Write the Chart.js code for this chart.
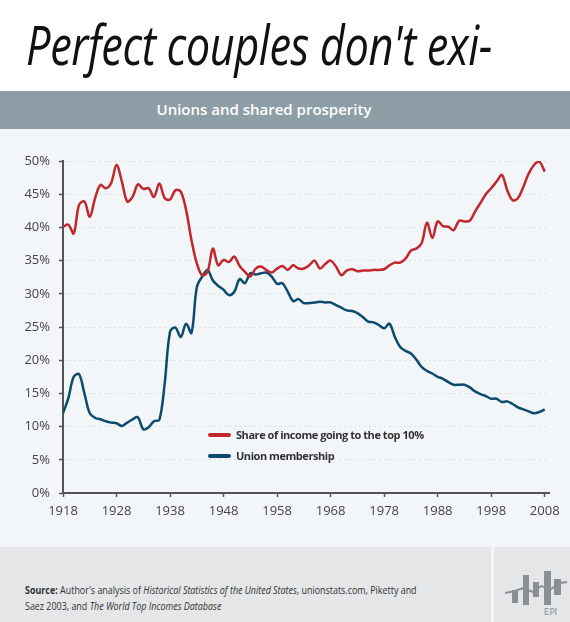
<!DOCTYPE html>
<html>
<head>
<meta charset="utf-8">
<script src="https://cdn.jsdelivr.net/npm/chart.js@4.4.1/dist/chart.umd.min.js"></script>
<style>
  html, body { margin: 0; padding: 0; background: #fff; }
  #page { position: relative; width: 570px; height: 622px; overflow: hidden; font-family: "Open Sans", sans-serif; }
  #title { position: absolute; left: 26px; top: 7px; font-size: 54px; line-height: normal; font-style: italic; font-weight: 400; color: #111; white-space: nowrap; letter-spacing: -0.5px; transform: scaleX(0.803); transform-origin: left top; }
  #band { position: absolute; left: 0; top: 91px; width: 570px; height: 38px; background: #8d9ea6; }
  #band span { position: absolute; left: 0; width: 528px; top: 8px; text-align: center; color: #fff; font-size: 15px; font-weight: 600; }
  #plot { position: absolute; left: 0; top: 129px; width: 570px; height: 418px; background: #f2f6f8; }
  #legend { position: absolute; left: 208px; top: 427px; font-size: 11px; font-weight: 700; color: #333; letter-spacing: -0.45px; }
  #legend div { height: 21px; line-height: 16px; white-space: nowrap; }
  #legend i { display: inline-block; width: 23px; height: 4px; border-radius: 2px; vertical-align: middle; margin-right: 5px; position: relative; top: -1px; }
  #foot { position: absolute; left: 0; top: 547px; width: 570px; height: 75px; background: #e4e6e8; }
  #foot p { position: absolute; left: 25px; top: 35px; margin: 0; font-size: 10.5px; line-height: 16px; color: #333; white-space: nowrap; transform: scaleX(0.85); transform-origin: left top; }
  #divider { position: absolute; left: 491px; top: 547px; width: 3px; height: 75px; background: #f4f6f7; }
  #logo { position: absolute; left: 505px; top: 570px; }
</style>
</head>
<body>
<div id="page">
  <div id="title">Perfect couples don't exi-</div>
  <div id="band"><span>Unions and shared prosperity</span></div>
  <div id="plot"><canvas id="unionChart" width="570" height="418"></canvas></div>
  <div id="legend">
    <div><i style="background:#c1272d"></i>Share of income going to the top 10%</div>
    <div><i style="background:#0d4b6e"></i>Union membership</div>
  </div>
  <div id="foot"><p><b>Source:</b> Author's analysis of <i>Historical Statistics of the United States</i>, unionstats.com, Piketty and<br>Saez 2003, and <i>The World Top Incomes Database</i></p></div>
  <div id="divider"></div>
  <svg id="logo" width="64" height="48" viewBox="0 0 64 48">
    <g fill="#8a8f94">
      <rect x="7" y="20" width="6" height="13"/>
      <rect x="18" y="5" width="6" height="30"/>
      <rect x="28" y="12" width="6" height="15"/>
      <rect x="39" y="1" width="7" height="34"/>
      <rect x="49" y="9" width="7" height="16"/>
    </g>
    <polyline points="0,23 10,21 18,18 28,22 36,16 46,19 55,13 62,12" fill="none" stroke="#8a8f94" stroke-width="2"/>
    <text x="39" y="45" font-family="DejaVu Sans Condensed, sans-serif" font-size="9.5" fill="#8a8f94">EPI</text>
  </svg>
</div>
<script>
const years = [1918, 1919, 1920, 1921, 1922, 1923, 1924, 1925, 1926, 1927,
    1928, 1929, 1930, 1931, 1932, 1933, 1934, 1935, 1936, 1937,
    1938, 1939, 1940, 1941, 1942, 1943, 1944, 1945, 1946, 1947,
    1948, 1949, 1950, 1951, 1952, 1953, 1954, 1955, 1956, 1957,
    1958, 1959, 1960, 1961, 1962, 1963, 1964, 1965, 1966, 1967,
    1968, 1969, 1970, 1971, 1972, 1973, 1974, 1975, 1976, 1977,
    1978, 1979, 1980, 1981, 1982, 1983, 1984, 1985, 1986, 1987,
    1988, 1989, 1990, 1991, 1992, 1993, 1994, 1995, 1996, 1997,
    1998, 1999, 2000, 2001, 2002, 2003, 2004, 2005, 2006, 2007,
    2008];

// share of income going to the top 10%
const topTenShare = [40.1, 40.4, 39.1, 43.4, 43.9, 41.6, 44.4, 46.4, 45.9, 46.7,
    49.4, 46.9, 43.9, 44.6, 46.5, 45.8, 45.9, 44.6, 46.6, 44.4,
    44.2, 45.6, 45.4, 42.6, 38.1, 34.6, 32.8, 33.3, 36.8, 34.3,
    35.1, 34.8, 35.6, 34.2, 33.3, 32.6, 33.8, 34.1, 33.6, 33.2,
    33.8, 34.2, 33.6, 34.3, 33.8, 33.8, 34.3, 35.0, 33.8, 34.5,
    35.0, 34.1, 32.8, 33.5, 33.7, 33.4, 33.5, 33.5, 33.6, 33.6,
    33.7, 34.3, 34.7, 34.7, 35.3, 36.5, 36.8, 37.6, 40.7, 38.4,
    40.9, 40.2, 40.1, 39.6, 41.0, 40.9, 41.0, 42.4, 43.7, 45.0,
    45.9, 46.9, 47.9, 45.6, 44.1, 44.4, 46.1, 48.1, 49.4, 49.9,
    48.4];

// union membership
const unionMembership = [12.0, 14.3, 17.5, 17.9, 15.0, 12.0, 11.3, 11.1, 10.8, 10.6,
    10.5, 10.1, 10.6, 11.1, 11.4, 9.6, 9.9, 10.8, 11.0, 16.5,
    24.3, 24.9, 23.5, 25.5, 24.1, 31.0, 32.6, 33.6, 32.0, 31.2,
    30.6, 29.8, 30.3, 32.2, 31.6, 33.1, 32.9, 33.1, 33.2, 32.6,
    31.5, 31.6, 30.3, 28.9, 29.2, 28.6, 28.6, 28.7, 28.8, 28.7,
    28.7, 28.3, 27.9, 27.5, 27.4, 27.1, 26.5, 25.8, 25.7, 25.3,
    24.8, 25.5, 23.5, 22.0, 21.4, 21.0, 20.1, 19.0, 18.4, 18.0,
    17.5, 17.2, 16.7, 16.3, 16.3, 16.3, 15.9, 15.3, 14.9, 14.6,
    14.2, 14.2, 13.7, 13.8, 13.4, 12.9, 12.6, 12.3, 12.0, 12.2,
    12.6];

const xTicks = [1918, 1928, 1938, 1948, 1958, 1968, 1978, 1988, 1998, 2008];
const yTicks = [0, 5, 10, 15, 20, 25, 30, 35, 40, 45, 50];

const toPoints = vals => vals.map((v, i) => ({ x: years[i], y: v }));

const ctx = document.getElementById('unionChart').getContext('2d');
const unionChart = new Chart(ctx, {
    type: 'line',
    data: {
        datasets: [{
            label: 'Share of income going to the top 10%',
            data: toPoints(topTenShare),
            borderColor: '#c1272d',
            borderWidth: 2.5,
            pointRadius: 0,
            tension: 0.35
        }, {
            label: 'Union membership',
            data: toPoints(unionMembership),
            borderColor: '#0d4b6e',
            borderWidth: 2.5,
            pointRadius: 0,
            tension: 0.35
        }]
    },
    options: {
        responsive: false,
        animation: false,
        events: [],
        layout: { padding: { top: 32, right: 21, left: 0, bottom: 0 } },
        plugins: { legend: { display: false }, tooltip: { enabled: false } },
        scales: {
            x: {
                type: 'linear',
                min: 1918,
                max: 2008.8,
                afterBuildTicks: s => { s.ticks = xTicks.map(v => ({ value: v })); },
                afterFit: s => { s.height = 54; },
                grid: { drawOnChartArea: false, tickLength: 4, tickColor: '#555', tickWidth: 1.5 },
                border: { color: '#555', width: 2 },
                ticks: {
                    padding: 6,
                    color: '#444',
                    font: { family: 'Open Sans', size: 13 },
                    callback: v => String(v)
                }
            },
            y: {
                min: 0,
                max: 50,
                afterBuildTicks: s => { s.ticks = yTicks.map(v => ({ value: v })); },
                afterFit: s => { s.width = 63; },
                grid: { color: '#dde1e4', lineWidth: 1, tickLength: 4, tickColor: '#555', tickWidth: 1.5 },
                border: { color: '#555', width: 2, dash: [2, 3] },
                ticks: {
                    padding: 9,
                    color: '#444',
                    font: { family: 'Open Sans', size: 13 },
                    callback: v => v + '%'
                }
            }
        }
    }
});
</script>
</body>
</html>
